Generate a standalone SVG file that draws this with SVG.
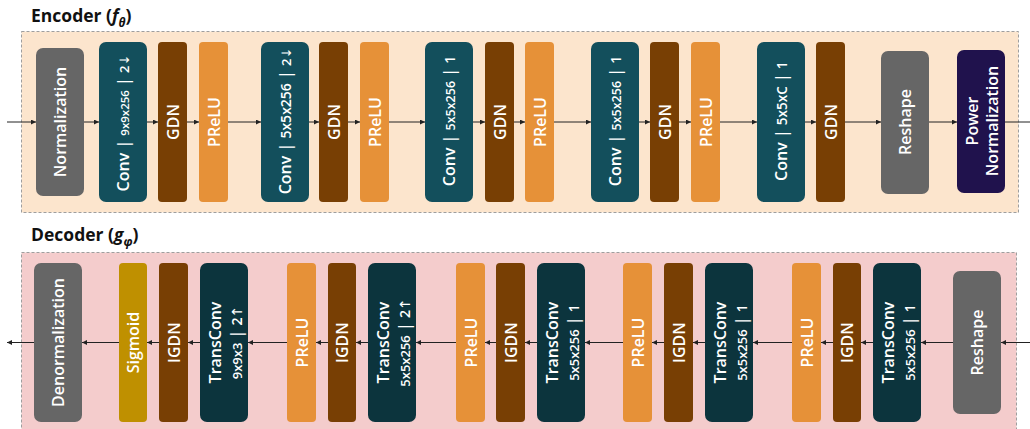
<svg xmlns="http://www.w3.org/2000/svg" width="1030" height="429" viewBox="0 0 1030 429">
  <defs>
    <marker id="head" markerUnits="userSpaceOnUse" markerWidth="6" markerHeight="6" refX="5" refY="2.5" orient="auto">
      <path d="M0,0 L5,2.5 L0,5 z" fill="#222"/>
    </marker>
    <style>
      .panel { stroke: #9e9e9e; stroke-width: 1; stroke-dasharray: 3 2; }
      .enc { fill: #fce5cd; }
      .dec { fill: #f4cccc; }
      .title { font-family: "Open Sans", "Liberation Sans", sans-serif; font-weight: 700; font-size: 17.5px; fill: #111; }
      .lbl { font-family: "Open Sans", "Liberation Sans", sans-serif; font-weight: 600; font-size: 16px; fill: #fff; text-anchor: middle; }
      .ar { font-family: "DejaVu Sans", sans-serif; font-weight: 400; }
      .gray { fill: #666666; }
      .conv { fill: #134f5c; }
      .tconv { fill: #0c343d; }
      .gdn { fill: #783f04; }
      .prelu { fill: #e69138; }
      .sig { fill: #bf9000; }
      .pnorm { fill: #20124d; }
      .link { stroke: #222; stroke-width: 1; fill: none; }
      .arr { marker-end: url(#head); }
    </style>
  </defs>

  <rect width="1030" height="429" fill="#fff"/>

  <!-- Panels and titles -->
  <rect class="panel enc" x="21.5" y="31.5" width="997" height="181"/>
  <text class="title" x="31" y="22">Encoder (<tspan font-style="italic">f</tspan><tspan font-style="italic" font-size="12" dy="5">θ</tspan><tspan dy="-5">)</tspan></text>

  <rect class="panel dec" x="21.5" y="252.5" width="995" height="185"/>
  <text class="title" x="31" y="241">Decoder (<tspan font-style="italic">g</tspan><tspan font-style="italic" font-size="12" dy="5">φ</tspan><tspan dy="-5">)</tspan></text>

  <!-- Connectors -->
  <g id="connectors">
    <!-- encoder, left to right -->
    <line class="link arr" x1="7" y1="122" x2="36" y2="122"/>
    <line class="link arr" x1="84" y1="122" x2="99" y2="122"/>
    <line class="link arr" x1="147" y1="122" x2="158" y2="122"/>
    <line class="link arr" x1="187" y1="122" x2="199" y2="122"/>
    <line class="link arr" x1="228" y1="122" x2="261" y2="122"/>
    <line class="link arr" x1="309" y1="122" x2="319" y2="122"/>
    <line class="link arr" x1="348" y1="122" x2="360" y2="122"/>
    <line class="link arr" x1="389" y1="122" x2="425" y2="122"/>
    <line class="link arr" x1="473" y1="122" x2="485" y2="122"/>
    <line class="link arr" x1="514" y1="122" x2="525" y2="122"/>
    <line class="link arr" x1="554" y1="122" x2="591" y2="122"/>
    <line class="link arr" x1="639" y1="122" x2="650" y2="122"/>
    <line class="link arr" x1="679" y1="122" x2="691" y2="122"/>
    <line class="link arr" x1="720" y1="122" x2="757" y2="122"/>
    <line class="link arr" x1="805" y1="122" x2="816" y2="122"/>
    <line class="link arr" x1="845" y1="122" x2="881" y2="122"/>
    <line class="link arr" x1="929" y1="122" x2="957" y2="122"/>
    <line class="link" x1="1005" y1="122" x2="1030" y2="122"/>
    <!-- decoder, right to left -->
    <line class="link arr" x1="1030" y1="342.5" x2="1001" y2="342.5"/>
    <line class="link arr" x1="953" y1="342.5" x2="921" y2="342.5"/>
    <line class="link arr" x1="873" y1="342.5" x2="861" y2="342.5"/>
    <line class="link arr" x1="833" y1="342.5" x2="821" y2="342.5"/>
    <line class="link arr" x1="792" y1="342.5" x2="753" y2="342.5"/>
    <line class="link arr" x1="705" y1="342.5" x2="693" y2="342.5"/>
    <line class="link arr" x1="664" y1="342.5" x2="652" y2="342.5"/>
    <line class="link arr" x1="623" y1="342.5" x2="585" y2="342.5"/>
    <line class="link arr" x1="537" y1="342.5" x2="525" y2="342.5"/>
    <line class="link arr" x1="496" y1="342.5" x2="485" y2="342.5"/>
    <line class="link arr" x1="456" y1="342.5" x2="416" y2="342.5"/>
    <line class="link arr" x1="368" y1="342.5" x2="356" y2="342.5"/>
    <line class="link arr" x1="328" y1="342.5" x2="316" y2="342.5"/>
    <line class="link arr" x1="287" y1="342.5" x2="248" y2="342.5"/>
    <line class="link arr" x1="200" y1="342.5" x2="188" y2="342.5"/>
    <line class="link arr" x1="159" y1="342.5" x2="147" y2="342.5"/>
    <line class="link arr" x1="119" y1="342.5" x2="82" y2="342.5"/>
    <line class="link arr" x1="34" y1="342.5" x2="7" y2="342.5"/>
  </g>

  <!-- Encoder nodes -->
  <g id="enc-normalization">
    <rect class="gray" x="36" y="48" width="48" height="148" rx="7"/>
    <text class="lbl" transform="translate(60,122) rotate(-90)" y="6">Normalization</text>
  </g>
  <g id="enc-conv1">
    <rect class="conv" x="99" y="42" width="48" height="160" rx="7"/>
    <text class="lbl" transform="translate(123,123) rotate(-90)" y="6">Conv | <tspan font-size="11.5">9x9x256</tspan> | <tspan font-size="13">2</tspan><tspan class="ar" font-size="13">↓</tspan></text>
  </g>
  <g id="enc-gdn1">
    <rect class="gdn" x="158" y="42" width="29" height="160" rx="4"/>
    <text class="lbl" transform="translate(172.5,122) rotate(-90)" y="6">GDN</text>
  </g>
  <g id="enc-prelu1">
    <rect class="prelu" x="199" y="42" width="29" height="160" rx="4"/>
    <text class="lbl" transform="translate(213.5,122) rotate(-90)" y="6">PReLU</text>
  </g>
  <g id="enc-conv2">
    <rect class="conv" x="261" y="42" width="48" height="160" rx="7"/>
    <text class="lbl" transform="translate(285,121) rotate(-90)" y="6">Conv | <tspan font-size="14">5x5x256</tspan> | <tspan font-size="13">2</tspan><tspan class="ar" font-size="13">↓</tspan></text>
  </g>
  <g id="enc-gdn2">
    <rect class="gdn" x="319" y="42" width="29" height="160" rx="4"/>
    <text class="lbl" transform="translate(333.5,122) rotate(-90)" y="6">GDN</text>
  </g>
  <g id="enc-prelu2">
    <rect class="prelu" x="360" y="42" width="29" height="160" rx="4"/>
    <text class="lbl" transform="translate(374.5,122) rotate(-90)" y="6">PReLU</text>
  </g>
  <g id="enc-conv3">
    <rect class="conv" x="425" y="42" width="48" height="160" rx="7"/>
    <text class="lbl" transform="translate(449,121) rotate(-90)" y="6">Conv | <tspan font-size="12.5">5x5x256</tspan> | <tspan font-size="14">1</tspan></text>
  </g>
  <g id="enc-gdn3">
    <rect class="gdn" x="485" y="42" width="29" height="160" rx="4"/>
    <text class="lbl" transform="translate(499.5,122) rotate(-90)" y="6">GDN</text>
  </g>
  <g id="enc-prelu3">
    <rect class="prelu" x="525" y="42" width="29" height="160" rx="4"/>
    <text class="lbl" transform="translate(539.5,122) rotate(-90)" y="6">PReLU</text>
  </g>
  <g id="enc-conv4">
    <rect class="conv" x="591" y="42" width="48" height="160" rx="7"/>
    <text class="lbl" transform="translate(615,121) rotate(-90)" y="6">Conv | <tspan font-size="12.5">5x5x256</tspan> | <tspan font-size="14">1</tspan></text>
  </g>
  <g id="enc-gdn4">
    <rect class="gdn" x="650" y="42" width="29" height="160" rx="4"/>
    <text class="lbl" transform="translate(664.5,122) rotate(-90)" y="6">GDN</text>
  </g>
  <g id="enc-prelu4">
    <rect class="prelu" x="691" y="42" width="29" height="160" rx="4"/>
    <text class="lbl" transform="translate(705.5,122) rotate(-90)" y="6">PReLU</text>
  </g>
  <g id="enc-conv5">
    <rect class="conv" x="757" y="42" width="48" height="160" rx="7"/>
    <text class="lbl" transform="translate(781,121) rotate(-90)" y="6">Conv | <tspan font-size="13.5">5x5xC</tspan> | <tspan font-size="14">1</tspan></text>
  </g>
  <g id="enc-gdn5">
    <rect class="gdn" x="816" y="42" width="29" height="160" rx="4"/>
    <text class="lbl" transform="translate(830.5,122) rotate(-90)" y="6">GDN</text>
  </g>
  <g id="enc-reshape">
    <rect class="gray" x="881" y="51" width="48" height="143" rx="7"/>
    <text class="lbl" transform="translate(905,122) rotate(-90)" y="6">Reshape</text>
  </g>
  <g id="enc-power-norm">
    <rect class="pnorm" x="957" y="50" width="48" height="143" rx="7"/>
    <text class="lbl" transform="translate(981,121) rotate(-90)"><tspan x="0" y="-3">Power</tspan><tspan x="0" y="17">Normalization</tspan></text>
  </g>

  <!-- Decoder nodes -->
  <g id="dec-denormalization">
    <rect class="gray" x="34" y="263" width="48" height="159" rx="7"/>
    <text class="lbl" transform="translate(58,342.5) rotate(-90)" y="6">Denormalization</text>
  </g>
  <g id="dec-sigmoid">
    <rect class="sig" x="119" y="263" width="28" height="159" rx="4"/>
    <text class="lbl" transform="translate(133,342.5) rotate(-90)" y="6">Sigmoid</text>
  </g>
  <g id="dec-igdn1">
    <rect class="gdn" x="159" y="263" width="29" height="159" rx="4"/>
    <text class="lbl" transform="translate(173.5,342.5) rotate(-90)" y="6">IGDN</text>
  </g>
  <g id="dec-tconv1">
    <rect class="tconv" x="200" y="263" width="48" height="159" rx="7"/>
    <text class="lbl" transform="translate(224,342.5) rotate(-90)"><tspan x="0" y="-3.5">TransConv</tspan><tspan x="0" y="17.5"><tspan font-size="13">9x9x3</tspan> | <tspan font-size="14">2</tspan><tspan class="ar" font-size="14">↑</tspan></tspan></text>
  </g>
  <g id="dec-prelu1">
    <rect class="prelu" x="287" y="263" width="29" height="159" rx="4"/>
    <text class="lbl" transform="translate(301.5,342.5) rotate(-90)" y="6">PReLU</text>
  </g>
  <g id="dec-igdn2">
    <rect class="gdn" x="328" y="263" width="28" height="159" rx="4"/>
    <text class="lbl" transform="translate(342,342.5) rotate(-90)" y="6">IGDN</text>
  </g>
  <g id="dec-tconv2">
    <rect class="tconv" x="368" y="263" width="48" height="159" rx="7"/>
    <text class="lbl" transform="translate(392,342.5) rotate(-90)"><tspan x="0" y="-3.5">TransConv</tspan><tspan x="0" y="17.5"><tspan font-size="13">5x5x256</tspan> | <tspan font-size="14">2</tspan><tspan class="ar" font-size="14">↑</tspan></tspan></text>
  </g>
  <g id="dec-prelu2">
    <rect class="prelu" x="456" y="263" width="29" height="159" rx="4"/>
    <text class="lbl" transform="translate(470.5,342.5) rotate(-90)" y="6">PReLU</text>
  </g>
  <g id="dec-igdn3">
    <rect class="gdn" x="496" y="263" width="29" height="159" rx="4"/>
    <text class="lbl" transform="translate(510.5,342.5) rotate(-90)" y="6">IGDN</text>
  </g>
  <g id="dec-tconv3">
    <rect class="tconv" x="537" y="263" width="48" height="159" rx="7"/>
    <text class="lbl" transform="translate(561,342.5) rotate(-90)"><tspan x="0" y="-3.5">TransConv</tspan><tspan x="0" y="17.5"><tspan font-size="13">5x5x256</tspan> | <tspan font-size="14">1</tspan></tspan></text>
  </g>
  <g id="dec-prelu3">
    <rect class="prelu" x="623" y="263" width="29" height="159" rx="4"/>
    <text class="lbl" transform="translate(637.5,342.5) rotate(-90)" y="6">PReLU</text>
  </g>
  <g id="dec-igdn4">
    <rect class="gdn" x="664" y="263" width="29" height="159" rx="4"/>
    <text class="lbl" transform="translate(678.5,342.5) rotate(-90)" y="6">IGDN</text>
  </g>
  <g id="dec-tconv4">
    <rect class="tconv" x="705" y="263" width="48" height="159" rx="7"/>
    <text class="lbl" transform="translate(729,342.5) rotate(-90)"><tspan x="0" y="-3.5">TransConv</tspan><tspan x="0" y="17.5"><tspan font-size="13">5x5x256</tspan> | <tspan font-size="14">1</tspan></tspan></text>
  </g>
  <g id="dec-prelu4">
    <rect class="prelu" x="792" y="263" width="29" height="159" rx="4"/>
    <text class="lbl" transform="translate(806.5,342.5) rotate(-90)" y="6">PReLU</text>
  </g>
  <g id="dec-igdn5">
    <rect class="gdn" x="833" y="263" width="28" height="159" rx="4"/>
    <text class="lbl" transform="translate(847,342.5) rotate(-90)" y="6">IGDN</text>
  </g>
  <g id="dec-tconv5">
    <rect class="tconv" x="873" y="263" width="48" height="159" rx="7"/>
    <text class="lbl" transform="translate(897,342.5) rotate(-90)"><tspan x="0" y="-3.5">TransConv</tspan><tspan x="0" y="17.5"><tspan font-size="13">5x5x256</tspan> | <tspan font-size="14">1</tspan></tspan></text>
  </g>
  <g id="dec-reshape">
    <rect class="gray" x="953" y="271" width="48" height="143" rx="7"/>
    <text class="lbl" transform="translate(977,342.5) rotate(-90)" y="6">Reshape</text>
  </g>
</svg>
